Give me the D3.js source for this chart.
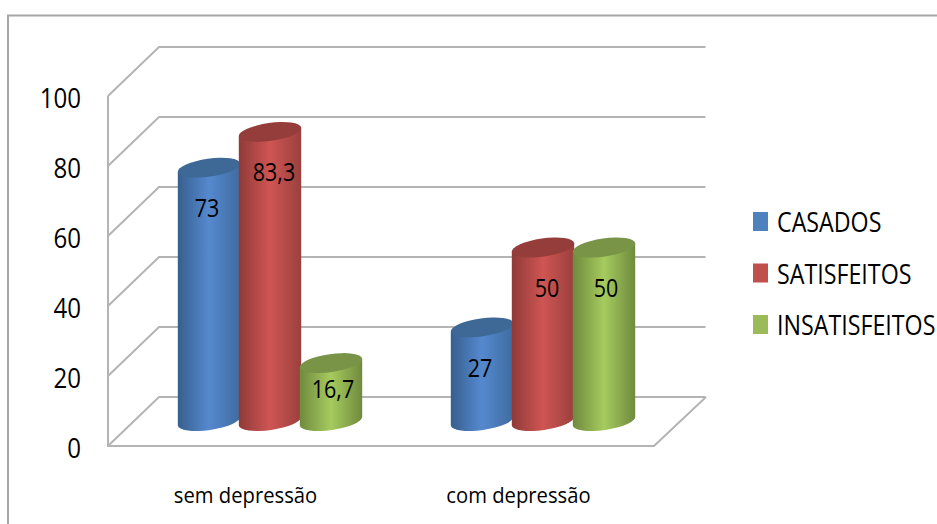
<!DOCTYPE html>
<html><head><meta charset="utf-8">
<script src="https://cdn.jsdelivr.net/npm/d3@7"></script>
<style>html,body{margin:0;padding:0;background:#fff;overflow:hidden}text{font-family:"Open Sans",sans-serif;fill:#000}</style>
</head><body><div id="c"></div>
<script>
const categories = ["sem depressão", "com depressão"];
const seriesNames = ["CASADOS", "SATISFEITOS", "INSATISFEITOS"];
const casados = [73, 27];
const satisfeitos = [83.3, 50];
const insatisfeitos = [16.7, 50];
const valueLabels = [["73", "27"], ["83,3", "50"], ["16,7", "50"]];
const yTicks = [0, 20, 40, 60, 80, 100];
const bodyColors = [["#375f8e", "#5589cf", "#3f6b9f"], ["#8f3b39", "#cf5553", "#9a403d"], ["#6f8a3e", "#a6cb5e", "#6f8a3e"]];
const topColors = ["#3e6896", "#943d3a", "#7a9447"];
const legendColors = ["#4f81bd", "#c0504d", "#9bbb59"];

const W = 937, H = 524, depthX = 51, depthY = 49;
const values = [casados, satisfeitos, insatisfeitos];
const svg = d3.select("#c").append("svg").attr("width", W).attr("height", H).style("display", "block");
const y = d3.scaleLinear().domain([0, 100]).range([446, 96]);
const yBar = d3.scaleLinear().domain([0, 100]).range([421, 74]);
const x0 = d3.scaleBand().domain(categories).range([108, 654]);
const x1 = d3.scaleBand().domain(seriesNames).range([-91.5, 91.5]);
const grid = "#b4b4b4";

// chart frame
svg.append("path").attr("d", `M8,${H}V15.5H${W}`).attr("fill", "none").attr("stroke", "#a6a6a6").attr("stroke-width", 2);

// walls and floor
const g = svg.append("g").attr("fill", "none").attr("stroke", grid).attr("stroke-width", 2);
g.selectAll(".back").data(yTicks).join("path")
  .attr("d", d => `M${x0.range()[0]},${y(d)}L${x0.range()[0] + depthX},${y(d) - depthY}H${x0.range()[1] + depthX + 0.5}`);
g.append("path").attr("d", `M${x0.range()[0]},${y(100)}V${y(0)}H${x0.range()[1]}L${x0.range()[1] + depthX + 1},${y(0) - depthY}`);

// gradients
const defs = svg.append("defs");
bodyColors.forEach((c, i) => {
  const lg = defs.append("linearGradient").attr("id", "b" + i);
  [[0, c[0]], [0.5, c[1]], [1, c[2]]].forEach(s => lg.append("stop").attr("offset", s[0]).attr("stop-color", s[1]));
});

// cylinders
const rx = 31.5, ry = 9, rot = -8;
const ex = rx * Math.cos(rot * Math.PI / 180), ey = -rx * Math.sin(rot * Math.PI / 180);
seriesNames.forEach((name, s) => {
  categories.forEach((cat, k) => {
    const v = values[s][k];
    const cx = x0(cat) + x0.bandwidth() / 2 + depthX / 2 + x1(name) + x1.bandwidth() / 2;
    const yb = yBar(0), yt = yBar(v);
    const c = svg.append("g");
    c.append("path")
      .attr("d", `M${cx - ex},${yt + ey}L${cx - ex},${yb + ey}A${rx},${ry},${rot},0,0,${cx + ex},${yb - ey}L${cx + ex},${yt - ey}Z`)
      .attr("fill", `url(#b${s})`);
    c.append("ellipse").attr("rx", rx).attr("ry", ry)
      .attr("transform", `translate(${cx},${yt}) rotate(${rot})`)
      .attr("fill", topColors[s]);
  });
});

function squeeze(sel, px, py, sx) {
  return sel.attr("x", 0).attr("y", 0).attr("dy", null).attr("transform", `translate(${px},${py}) scale(${sx},1)`);
}

// value labels
const labelShift = [-2, 4, 2];
seriesNames.forEach((name, s) => {
  categories.forEach((cat, k) => {
    const v = values[s][k];
    const cx = x0(cat) + x0.bandwidth() / 2 + depthX / 2 + x1(name) + x1.bandwidth() / 2;
    const h = yBar(0) - yBar(v);
    const t = svg.append("text").text(valueLabels[s][k]).attr("text-anchor", "middle")
      .attr("font-size", 25);
    squeeze(t, cx + labelShift[s], yBar(v) + Math.min(41, h * 0.45) + 8.5, 0.86);
  });
});

// axes
const yAxis = svg.append("g").attr("transform", "translate(81,0)")
  .call(d3.axisLeft(y).tickValues(yTicks).tickSize(0).tickPadding(0));
yAxis.select(".domain").remove();
yAxis.selectAll("text").style("font-size", "28px").style("font-family", '"Open Sans",sans-serif')
  .each(function () { squeeze(d3.select(this), 0, 11.5, 0.86); });

const xAxis = svg.append("g").attr("transform", "translate(0,0)")
  .call(d3.axisBottom(x0).tickSize(0).tickPadding(0));
xAxis.select(".domain").remove();
xAxis.selectAll(".tick").attr("transform", d => `translate(${x0(d) + x0.bandwidth() / 2 + 1},503)`);
xAxis.selectAll("text").style("font-size", "22px").style("font-family", '"Open Sans",sans-serif')
  .each(function () { squeeze(d3.select(this), 0, 0, 0.92); });

// legend
const legY = d3.scalePoint().domain(seriesNames).range([221.5, 324.5]);
const leg = svg.selectAll(".leg").data(seriesNames).join("g").attr("transform", d => `translate(753,${legY(d)})`);
leg.append("rect").attr("x", 0).attr("y", -9.5).attr("width", 15).attr("height", 19).attr("fill", (d, i) => legendColors[i]);
leg.append("text").text(d => d).attr("font-size", 28).each(function () { squeeze(d3.select(this), 24, 10.5, 0.83); });
</script></body></html>
